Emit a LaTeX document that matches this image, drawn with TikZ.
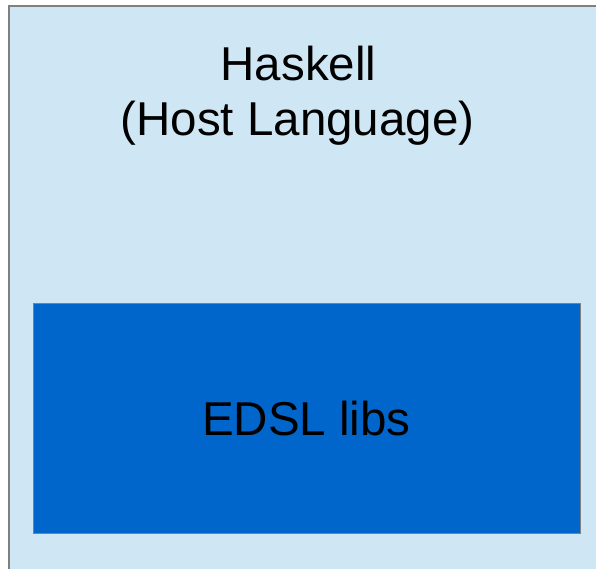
\documentclass[tikz,border=0pt]{standalone}
\usepackage{fontspec}
\setmainfont{Liberation Sans}
\definecolor{hostfill}{HTML}{CFE7F5}
\definecolor{libfill}{HTML}{0066CC}
\definecolor{edgegray}{HTML}{808080}
\begin{document}
\begin{tikzpicture}[x=1pt,y=-1pt,
  bigtext/.style={inner sep=0pt,anchor=base,font=\fontsize{47.5}{55}\selectfont}]
\useasboundingbox (0,0) rectangle (596,568);
\fill[white] (0,0) rectangle (596,568);
\node[draw=edgegray,line width=1.5pt,fill=hostfill,minimum width=600pt,minimum height=580pt,anchor=north west,inner sep=0pt] (host) at (8,5) {};
\node[draw=edgegray,line width=0.8pt,fill=libfill,minimum width=547pt,minimum height=230pt,anchor=north west,inner sep=0pt] (libs) at (33,303) {};
\node[bigtext] (t1) at (298.5,80) {Haskell};
\node[bigtext] (t2) at (297.5,135) {(Host Language)};
\node[bigtext] (t3) at (306.5,435) {EDSL libs};
\end{tikzpicture}
\end{document}
